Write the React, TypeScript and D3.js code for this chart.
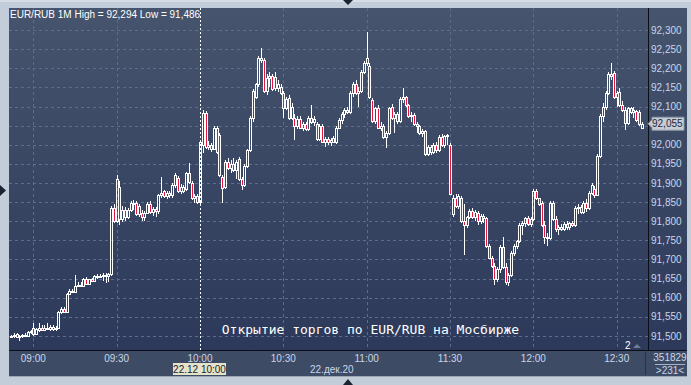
import React from "react";
import * as d3 from "d3";

const SYMBOL = "EUR/RUB";
const TITLE = "EUR/RUB 1M High = 92,294 Low = 91,486";
const CAPTION = "Открытие торгов по EUR/RUB на Мосбирже";
const START_TIME = "08:52";
const timeTicks = ["09:00", "09:30", "10:00", "10:30", "11:00", "11:30", "12:00", "12:30"];
const priceTicks = [91.5, 91.55, 91.6, 91.65, 91.7, 91.75, 91.8, 91.85, 91.9, 91.95, 92.0, 92.05, 92.1, 92.15, 92.2, 92.25, 92.3];
const lastPrice = 92.055;
const volumeTotal = "351829";
const barsCount = ">231<";
const dateLabel = "22.дек.20";
const cursorLabel = "22.12 10:00";
const cursorTime = "10:00";

const open = [
  91.498, 91.500, 91.505, 91.497, 91.500, 91.503, 91.500, 91.510, 91.520, 91.504,
  91.515, 91.522, 91.516, 91.520, 91.518, 91.524, 91.519, 91.521, 91.563, 91.570,
  91.563, 91.610, 91.618, 91.615, 91.632, 91.634, 91.632, 91.650, 91.636, 91.648,
  91.645, 91.657, 91.655, 91.658, 91.660, 91.656, 91.662, 91.835, 91.800, 91.890,
  91.805, 91.830, 91.810, 91.830, 91.848, 91.848, 91.820, 91.822, 91.810, 91.822,
  91.845, 91.825, 91.832, 91.828, 91.868, 91.878, 91.866, 91.875, 91.868, 91.895,
  91.912, 91.880, 91.890, 91.885, 91.925, 91.900, 91.860, 91.865, 91.850, 92.000,
  92.082, 91.995, 92.000, 91.990, 92.045, 92.025, 91.916, 91.890, 91.955, 91.940,
  91.950, 91.935, 91.962, 91.910, 91.895, 91.945, 91.985, 92.070, 92.125, 92.158,
  92.228, 92.222, 92.140, 92.175, 92.180, 92.177, 92.148, 92.150, 92.135, 92.096,
  92.122, 92.070, 92.070, 92.050, 92.068, 92.045, 92.055, 92.040, 92.070, 92.060,
  92.055, 92.015, 92.050, 92.008, 92.015, 92.008, 92.018, 92.008, 92.045, 92.065,
  92.080, 92.090, 92.085, 92.135, 92.160, 92.135, 92.140, 92.190, 92.215, 92.205,
  92.118, 92.062, 92.095, 92.045, 92.050, 92.020, 92.030, 92.100, 92.070, 92.080,
  92.062, 92.120, 92.125, 92.104, 92.075, 92.078, 92.055, 92.048, 92.030, 92.035,
  91.975, 91.995, 91.980, 92.000, 91.985, 92.020, 92.000, 92.022, 92.000, 91.820,
  91.860, 91.840, 91.862, 91.800, 91.790, 91.810, 91.828, 91.810, 91.822, 91.800,
  91.815, 91.808, 91.735, 91.705, 91.682, 91.650, 91.675, 91.733, 91.680, 91.640,
  91.660, 91.718, 91.735, 91.748, 91.790, 91.795, 91.808, 91.792, 91.805, 91.880,
  91.860, 91.848, 91.790, 91.760, 91.755, 91.848, 91.806, 91.780, 91.785, 91.780,
  91.792, 91.785, 91.795, 91.790, 91.835, 91.838, 91.825, 91.848, 91.835, 91.875,
  91.885, 91.868, 91.970, 92.075, 92.100, 92.135, 92.185, 92.187, 92.125, 92.138,
  92.105, 92.092, 92.058, 92.095, 92.085, 92.088, 92.085, 92.045,
];
const high = [
  91.502, 91.508, 91.507, 91.503, 91.506, 91.507, 91.512, 91.516, 91.534, 91.520,
  91.534, 91.528, 91.530, 91.535, 91.528, 91.530, 91.527, 91.566, 91.575, 91.575,
  91.612, 91.622, 91.624, 91.660, 91.640, 91.640, 91.652, 91.654, 91.650, 91.652,
  91.660, 91.662, 91.662, 91.664, 91.665, 91.664, 91.840, 91.845, 91.920, 91.905,
  91.840, 91.838, 91.835, 91.852, 91.855, 91.852, 91.845, 91.830, 91.826, 91.850,
  91.852, 91.838, 91.838, 91.872, 91.915, 91.882, 91.880, 91.878, 91.900, 91.926,
  91.918, 91.898, 91.895, 91.930, 91.952, 91.905, 91.872, 91.870, 92.012, 92.090,
  92.088, 92.010, 92.005, 92.050, 92.050, 92.030, 91.920, 91.960, 91.965, 91.960,
  91.965, 91.960, 91.968, 91.915, 91.950, 91.990, 92.075, 92.145, 92.162, 92.232,
  92.253, 92.228, 92.185, 92.190, 92.185, 92.190, 92.170, 92.158, 92.140, 92.125,
  92.130, 92.110, 92.080, 92.075, 92.075, 92.060, 92.060, 92.075, 92.104, 92.075,
  92.060, 92.055, 92.055, 92.020, 92.020, 92.018, 92.022, 92.050, 92.070, 92.085,
  92.095, 92.100, 92.140, 92.165, 92.168, 92.150, 92.195, 92.220, 92.294, 92.215,
  92.122, 92.100, 92.104, 92.060, 92.055, 92.035, 92.100, 92.106, 92.085, 92.085,
  92.125, 92.148, 92.128, 92.106, 92.085, 92.082, 92.060, 92.052, 92.040, 92.038,
  92.000, 92.000, 92.005, 92.008, 92.025, 92.028, 92.025, 92.028, 92.004, 91.868,
  91.870, 91.872, 91.866, 91.845, 91.815, 91.832, 91.834, 91.830, 91.826, 91.818,
  91.820, 91.810, 91.740, 91.710, 91.690, 91.680, 91.738, 91.760, 91.690, 91.665,
  91.722, 91.740, 91.752, 91.795, 91.800, 91.812, 91.815, 91.812, 91.885, 91.885,
  91.862, 91.852, 91.800, 91.770, 91.852, 91.852, 91.815, 91.790, 91.792, 91.798,
  91.800, 91.798, 91.800, 91.840, 91.845, 91.842, 91.852, 91.858, 91.878, 91.900,
  91.892, 91.975, 92.080, 92.110, 92.140, 92.190, 92.214, 92.192, 92.140, 92.148,
  92.115, 92.098, 92.100, 92.100, 92.098, 92.092, 92.090, 92.060,
];
const low = [
  91.495, 91.496, 91.494, 91.486, 91.494, 91.497, 91.498, 91.505, 91.500, 91.502,
  91.510, 91.512, 91.513, 91.515, 91.512, 91.514, 91.512, 91.518, 91.558, 91.560,
  91.560, 91.606, 91.612, 91.612, 91.628, 91.627, 91.630, 91.633, 91.634, 91.640,
  91.643, 91.650, 91.652, 91.645, 91.638, 91.640, 91.658, 91.795, 91.795, 91.790,
  91.798, 91.800, 91.805, 91.825, 91.830, 91.815, 91.812, 91.800, 91.800, 91.818,
  91.820, 91.815, 91.812, 91.818, 91.860, 91.862, 91.858, 91.862, 91.862, 91.888,
  91.875, 91.872, 91.875, 91.880, 91.898, 91.856, 91.848, 91.845, 91.846, 91.978,
  91.990, 91.985, 91.980, 91.985, 91.975, 91.915, 91.848, 91.885, 91.935, 91.925,
  91.930, 91.910, 91.905, 91.882, 91.890, 91.940, 91.980, 92.060, 92.120, 92.150,
  92.215, 92.135, 92.130, 92.150, 92.140, 92.140, 92.138, 92.130, 92.070, 92.090,
  92.065, 92.065, 92.012, 92.040, 92.040, 92.035, 92.036, 92.035, 92.055, 92.050,
  92.010, 92.010, 92.005, 91.995, 92.000, 91.998, 92.005, 92.002, 92.040, 92.055,
  92.070, 92.080, 92.080, 92.125, 92.130, 92.100, 92.135, 92.185, 92.205, 92.120,
  92.058, 92.055, 92.040, 92.035, 92.015, 91.991, 92.025, 92.065, 92.030, 92.055,
  92.058, 92.110, 92.100, 92.070, 92.060, 92.050, 92.030, 92.025, 92.020, 91.970,
  91.970, 91.972, 91.975, 91.978, 91.980, 91.995, 91.992, 92.000, 91.868, 91.812,
  91.835, 91.832, 91.795, 91.712, 91.782, 91.805, 91.805, 91.800, 91.790, 91.792,
  91.795, 91.730, 91.700, 91.678, 91.633, 91.641, 91.665, 91.675, 91.633, 91.630,
  91.655, 91.710, 91.728, 91.742, 91.765, 91.785, 91.788, 91.786, 91.800, 91.855,
  91.840, 91.785, 91.740, 91.735, 91.750, 91.800, 91.772, 91.765, 91.775, 91.775,
  91.776, 91.778, 91.785, 91.786, 91.820, 91.818, 91.820, 91.825, 91.830, 91.868,
  91.862, 91.865, 91.965, 92.060, 92.090, 92.130, 92.170, 92.120, 92.100, 92.100,
  92.085, 92.038, 92.052, 92.080, 92.070, 92.060, 92.050, 92.040,
];
const close = [
  91.500, 91.503, 91.497, 91.500, 91.503, 91.500, 91.510, 91.513, 91.504, 91.517,
  91.522, 91.516, 91.520, 91.518, 91.524, 91.519, 91.522, 91.563, 91.570, 91.563,
  91.610, 91.618, 91.615, 91.632, 91.634, 91.630, 91.650, 91.636, 91.648, 91.645,
  91.657, 91.655, 91.658, 91.660, 91.656, 91.662, 91.835, 91.800, 91.910, 91.805,
  91.830, 91.810, 91.830, 91.848, 91.845, 91.820, 91.840, 91.810, 91.822, 91.845,
  91.825, 91.832, 91.828, 91.868, 91.875, 91.866, 91.875, 91.868, 91.895, 91.920,
  91.880, 91.890, 91.880, 91.925, 91.902, 91.860, 91.865, 91.850, 92.008, 92.082,
  91.995, 92.000, 91.990, 92.045, 91.980, 91.920, 91.888, 91.955, 91.940, 91.950,
  91.935, 91.955, 91.910, 91.895, 91.945, 91.985, 92.070, 92.140, 92.158, 92.228,
  92.222, 92.140, 92.175, 92.180, 92.145, 92.148, 92.160, 92.135, 92.096, 92.120,
  92.070, 92.100, 92.050, 92.068, 92.045, 92.055, 92.040, 92.070, 92.060, 92.068,
  92.015, 92.050, 92.008, 92.015, 92.008, 92.012, 92.008, 92.045, 92.065, 92.080,
  92.090, 92.085, 92.135, 92.160, 92.135, 92.140, 92.190, 92.215, 92.228, 92.125,
  92.062, 92.095, 92.045, 92.050, 92.020, 92.030, 92.095, 92.070, 92.080, 92.062,
  92.120, 92.125, 92.105, 92.075, 92.078, 92.055, 92.048, 92.030, 92.035, 91.975,
  91.995, 91.980, 92.000, 91.985, 92.020, 92.000, 92.022, 92.025, 91.872, 91.860,
  91.840, 91.865, 91.800, 91.790, 91.810, 91.828, 91.810, 91.825, 91.800, 91.815,
  91.808, 91.735, 91.705, 91.682, 91.650, 91.675, 91.733, 91.680, 91.640, 91.660,
  91.718, 91.735, 91.748, 91.790, 91.795, 91.808, 91.792, 91.805, 91.880, 91.860,
  91.845, 91.790, 91.760, 91.755, 91.848, 91.806, 91.780, 91.785, 91.780, 91.792,
  91.785, 91.795, 91.790, 91.835, 91.838, 91.825, 91.848, 91.835, 91.875, 91.895,
  91.868, 91.970, 92.075, 92.100, 92.135, 92.185, 92.180, 92.125, 92.135, 92.105,
  92.090, 92.058, 92.095, 92.085, 92.092, 92.065, 92.055, 92.055,
];

const toMin = (s: string) => {
  const [h, m] = s.split(":").map(Number);
  return h * 60 + m;
};
const fmt = (v: number) => v.toFixed(3).replace(".", ",");

export default function App() {
  const W = 691;
  const H = 385;
  const plotL = 9;
  const plotR = 648;
  const plotT = 8;
  const plotB = 350;
  const panelR = 687;
  const bandB = 376;

  const startMin = toMin(START_TIME);
  const minutes = open.map((_, i) => startMin + i);

  const x = d3
    .scaleLinear()
    .domain([toMin(timeTicks[0]), toMin(timeTicks[timeTicks.length - 1])])
    .range([33.3, 616.7]);
  const y = d3.scaleLinear().domain([91.5, 92.3]).range([336, 30]);

  const red = "#e3173e";
  const gridColor = "#5d6d8c";
  const axisText = "#c9d6ea";
  const font = "'Liberation Sans', Arial, sans-serif";

  const candles = open.map((o, i) => {
    const c = close[i];
    const cx = x(minutes[i]);
    const a = Math.round(cx) - 1;
    const top = Math.round(y(Math.max(o, c)));
    const bot = Math.round(y(Math.min(o, c)));
    const hy = Math.round(y(high[i]));
    const ly = Math.round(y(low[i]));
    const down = c < o;
    return (
      <g key={i}>
        {hy < top && <line x1={a + 1.5} x2={a + 1.5} y1={hy} y2={top} stroke="#fff" strokeWidth={1} />}
        {ly > bot && <line x1={a + 1.5} x2={a + 1.5} y1={bot + 1} y2={ly} stroke="#fff" strokeWidth={1} />}
        <rect
          x={a + 0.5}
          y={top + 0.5}
          width={2}
          height={Math.max(0, bot - top)}
          fill={down ? red : "none"}
          stroke="#fff"
          strokeWidth={1}
        />
      </g>
    );
  });

  const cursorX = Math.round(x(toMin(cursorTime))) + 0.5;
  const lastY = y(lastPrice);

  return (
    <div style={{ position: "fixed", left: 0, top: 0 }}>
      <svg width={W} height={H} style={{ display: "block" }}>
        <defs>
          <linearGradient id="bg" x1="0" y1="0" x2="0" y2="1">
            <stop offset="0" stopColor="#46546d" />
            <stop offset="1" stopColor="#2c395a" />
          </linearGradient>
          <clipPath id="plotClip">
            <rect x={plotL} y={plotT} width={plotR - plotL} height={plotB - plotT} />
          </clipPath>
        </defs>
        {/* outer frame */}
        <rect x={0} y={0} width={W} height={H} fill="#c3cdda" />
        <rect x={0} y={0} width={W} height={2} fill="#d6dde6" />
        <path d={`M0,185 L6,190.5 L0,196 Z`} fill="#1b2333" />
        <path d={`M343,0 L353,0 L348,5 Z`} fill="#1b2333" />
        <path d={`M343,385 L353,385 L348,379 Z`} fill="#1b2333" />

        {/* main panel */}
        <rect x={plotL} y={plotT} width={panelR - plotL} height={plotB - plotT} fill="url(#bg)" />
        {/* bottom band */}
        <rect x={plotL} y={plotB} width={panelR - plotL} height={bandB - plotB} fill="#3e4b64" />
        <line x1={plotL} x2={panelR} y1={bandB + 0.5} y2={bandB + 0.5} stroke="#9aa6b6" />

        {/* grid */}
        {priceTicks.map((p) => (
          <line
            key={"h" + p}
            x1={plotL}
            x2={plotR}
            y1={Math.round(y(p)) + 0.5}
            y2={Math.round(y(p)) + 0.5}
            stroke={gridColor}
            strokeDasharray="3,3"
          />
        ))}
        {timeTicks
          .filter((t) => t !== cursorTime)
          .map((t) => (
            <line
              key={"v" + t}
              x1={Math.round(x(toMin(t))) + 0.5}
              x2={Math.round(x(toMin(t))) + 0.5}
              y1={plotT}
              y2={plotB}
              stroke={gridColor}
              strokeDasharray="3,3"
            />
          ))}

        {/* candles */}
        <g clipPath="url(#plotClip)">{candles}</g>

        {/* cursor line */}
        <line x1={cursorX} x2={cursorX} y1={plotT} y2={plotB} stroke="#ffffff" strokeDasharray="2,2" />

        {/* axes lines */}
        <line x1={plotL} x2={panelR} y1={plotB + 0.5} y2={plotB + 0.5} stroke="#0b0f18" />
        <line x1={plotR + 0.5} x2={plotR + 0.5} y1={plotT} y2={plotB} stroke="#0b0f18" />
        <line x1={645.5} x2={645.5} y1={plotB + 2} y2={bandB - 1} stroke="#27324a" />

        {/* title */}
        <text x={10} y={17.5} fill="#ffffff" fontFamily={font} fontSize={10}>
          {TITLE}
        </text>

        {/* right axis labels (the one under the last-price tag is hidden, as in the reference) */}
        {priceTicks
          .filter((p) => Math.abs(y(p) - lastY) > 9)
          .map((p) => (
            <text key={"t" + p} x={651} y={y(p) + 3.5} fill={axisText} fontFamily={font} fontSize={10}>
              {fmt(p)}
            </text>
          ))}

        {/* last price tag */}
        <path
          d={`M648,${lastY} L652,${lastY - 4} L652,${lastY - 6.5} L684,${lastY - 6.5} L684,${lastY + 6.5} L652,${lastY + 6.5} L652,${lastY + 4} Z`}
          fill="#c7ccd4"
          stroke="#8e98a8"
        />
        <text x={652} y={lastY + 3.5} fill="#1e2a40" fontFamily={font} fontSize={10}>
          {fmt(lastPrice)}
        </text>

        {/* bottom time labels */}
        {timeTicks.map((t) => (
          <text
            key={"x" + t}
            x={x(toMin(t))}
            y={362}
            textAnchor="middle"
            fill={axisText}
            fontFamily={font}
            fontSize={10}
          >
            {t}
          </text>
        ))}
        <rect x={173} y={363} width={53} height={12} fill="#e6e3c8" />
        <text x={199.5} y={373} textAnchor="middle" fill="#1b2233" fontFamily={font} fontSize={10}>
          {cursorLabel}
        </text>
        <text x={310} y={373} fill={axisText} fontFamily={font} fontSize={10}>
          {dateLabel}
        </text>

        {/* bottom-right info */}
        <text x={670} y={361} textAnchor="middle" fill={axisText} fontFamily={font} fontSize={10}>
          {volumeTotal}
        </text>
        <line x1={655} x2={685} y1={364.5} y2={364.5} stroke="#a8b4c6" />
        <text x={670} y={374} textAnchor="middle" fill={axisText} fontFamily={font} fontSize={10}>
          {barsCount}
        </text>

        {/* pane marker */}
        <text x={625} y={349} fill="#ffffff" fontFamily={font} fontSize={10}>
          2
        </text>
        <path d="M633,348 L637,344 L641,348 Z" fill="#6f7d96" />

        {/* caption */}
        <text
          x={370.5}
          y={334}
          textAnchor="middle"
          fill="#ffffff"
          fontFamily="'DejaVu Sans Mono', monospace"
          fontSize={13}
        >
          {CAPTION}
        </text>
        <title>{SYMBOL}</title>
      </svg>
    </div>
  );
}
